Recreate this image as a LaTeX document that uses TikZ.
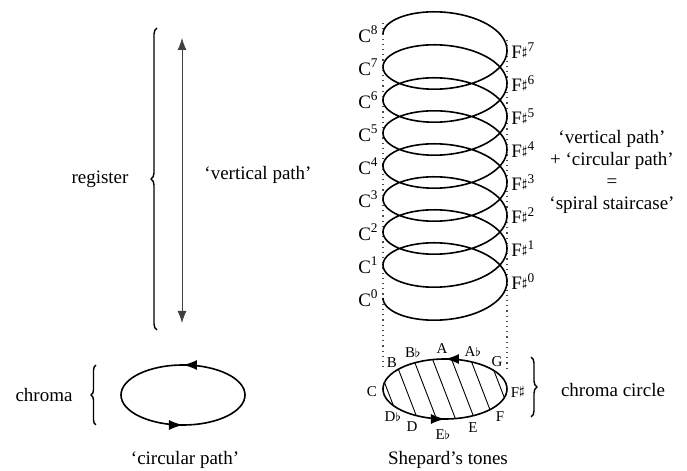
\documentclass[tikz,border=0pt]{standalone}
\usepackage{fontspec}
\setmainfont{Liberation Serif}
\usetikzlibrary{arrows.meta,decorations.pathreplacing,decorations.markings}
\newcommand{\shp}{\kern-0.2pt\raisebox{0.35ex}{\fontsize{6.5}{6.5}\selectfont$\sharp$}}
\newcommand{\flt}{\kern-0.2pt{\fontsize{6.5}{6.5}\selectfont$\flat$}}
\begin{document}
\begin{tikzpicture}[x=0.5pt,y=0.5pt,
  font=\fontsize{9.5}{11}\selectfont,
  curve/.style={line width=0.8pt},
  txt/.style={inner sep=0pt},
  note/.style={font=\fontsize{7.5}{9}\selectfont, inner sep=0pt},
  lbl/.style={inner sep=1pt},
  hatch/.style={line width=0.45pt},
  dots/.style={dotted, line width=0.6pt, black!70},
  dblarrow/.style={line width=0.45pt, black!75, {Latex[length=6pt,width=4.5pt]}-{Latex[length=6pt,width=4.5pt]}},
  bracestyle/.style={line width=0.7pt, decorate, decoration={brace, amplitude=#1}},
  bracestyle/.default=3pt,
  arrowed/.style={curve, postaction={decorate}, decoration={markings,
     mark=at position 0.25 with {\arrow{Latex[length=7pt,width=5pt]}},
     mark=at position 0.75 with {\arrow{Latex[length=7pt,width=5pt]}}}}]
\useasboundingbox (0,0) rectangle (687,471);

% ---------- left part ----------
\node[txt] (register) at (100,292) {register};
\coordinate (regbot) at (157,141);
\coordinate (regtop) at (157,443);
\draw[bracestyle=3pt] (regbot) -- (regtop);

\coordinate (vbot) at (182,148);
\coordinate (vtop) at (182,433);
\draw[dblarrow] (vbot) -- (vtop);
\node[txt] (vpath) at (258,296) {‘vertical path’};

\node[txt] (chroma) at (44,76) {chroma};
\coordinate (chbot) at (96,46);
\coordinate (chtop) at (96,106);
\draw[bracestyle=2.5pt] (chbot) -- (chtop);

\coordinate (lell) at (183,76);
\draw[arrowed] (lell) ellipse [x radius=62, y radius=30];
\node[txt] (cpath) at (185,11) {‘circular path’};

% ---------- spiral ----------
\coordinate (ldt) at (383,448);
\coordinate (ldb) at (383,103);
\coordinate (rdt) at (507,431);
\coordinate (rdb) at (507,103);
\draw[dots] (ldt) -- (ldb);
\draw[dots] (rdt) -- (rdb);

\draw[curve] plot[domain=0:2880, samples=700, variable=\t]
  ({445-62*cos(\t)}, {173+\t/360*33-30*sin(\t)});

\foreach \n in {0,...,8}
  \node[lbl, anchor=east] (c\n) at (381,{173+33*\n}) {C\textsuperscript{\n}};
\foreach \n in {0,...,7}
  \node[lbl, anchor=west] (f\n) at (509,{189.5+33*\n}) {F\shp\textsuperscript{\n}};

% ---------- chroma circle ----------
\coordinate (cc) at (445,82);
\begin{scope}
  \clip (cc) ellipse [x radius=62, y radius=30];
  \foreach \x in {349,368,...,520}
    \draw[hatch] (\x-15.4,122) -- (\x+15.4,42);
\end{scope}
\draw[arrowed] (cc) ellipse [x radius=62, y radius=30];

\node[note] (nA)  at (442,122) {A};
\node[note] (nBb) at (413,118) {B\flt};
\node[note] (nAb) at (473,119) {A\flt};
\node[note] (nG)  at (497,109) {G};
\node[note] (nB)  at (392,108) {B};
\node[note] (nC)  at (372,79) {C};
\node[note] (nFs) at (518,79) {F\shp};
\node[note] (nDb) at (393,54) {D\flt};
\node[note] (nF)  at (500,54) {F};
\node[note] (nD)  at (412,44) {D};
\node[note] (nEb) at (443,36) {E\flt};
\node[note] (nE)  at (473,43) {E};

\coordinate (rbt) at (531,114);
\coordinate (rbb) at (531,54);
\draw[bracestyle=3pt] (rbt) -- (rbb);
\node[txt] (ccirc) at (613,81) {chroma circle};
\node[txt] (shep) at (448,11) {Shepard’s tones};

\node[txt, align=center, font=\fontsize{9.5}{11}\selectfont] (eq) at (612,299)
  {‘vertical path’\\+ ‘circular path’\\=\\‘spiral staircase’};
\end{tikzpicture}
\end{document}
